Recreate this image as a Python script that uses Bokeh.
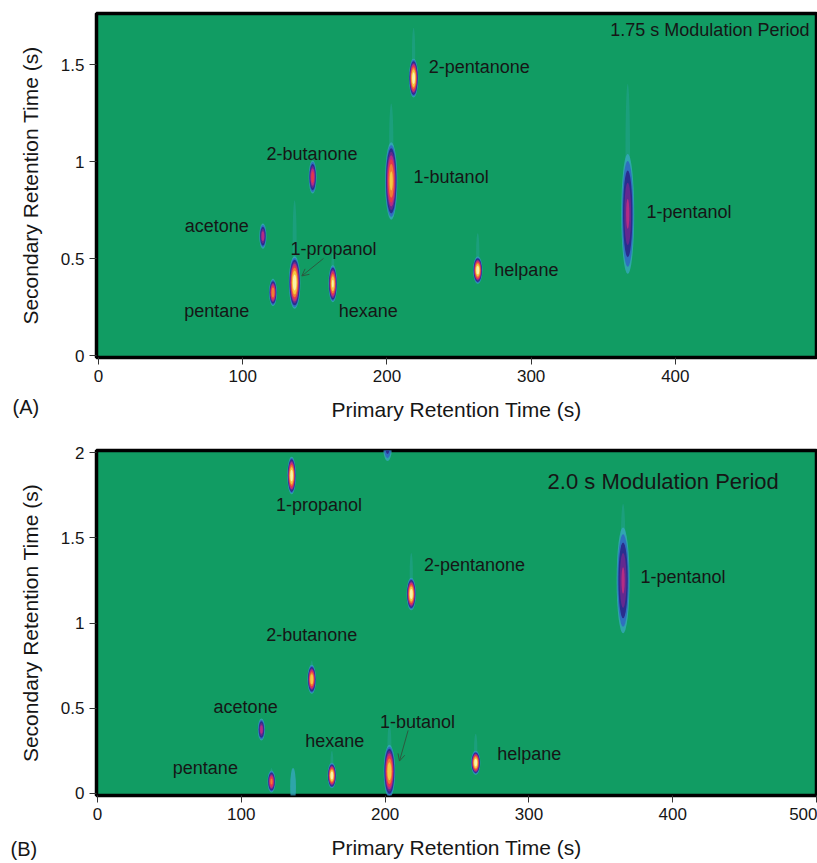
import math
from bokeh.plotting import figure
from bokeh.models import Range1d, FixedTicker, Title, Arrow, OpenHead, CustomJSTickFormatter
from bokeh.layouts import column
from bokeh.embed import file_html
from bokeh.resources import INLINE
from bokeh.core.properties import value

FONT = "Liberation Sans"
BG = "#119c63"
TXT = "#161616"

# ---------------- Panel A (1.75 s modulation) ----------------
a_x = [114, 121, 136, 148.5, 162.5, 203, 218.5, 263, 367]
a_y = [0.615, 0.325, 0.376, 0.92, 0.37, 0.90, 1.43, 0.44, 0.73]
a_w = [5.0, 5.5, 8.0, 5.5, 6.0, 8.5, 6.5, 6.5, 9.0]
a_h = [0.13, 0.14, 0.27, 0.17, 0.19, 0.40, 0.20, 0.14, 0.62]
a_i = [0.58, 0.80, 1.00, 0.68, 0.95, 0.85, 1.00, 1.00, 0.53]
a_tail = [0.68, 0.40, 0.80, 1.00, 0.53, 1.30, 1.69, 0.63, 1.40]

a_lab = ["acetone", "pentane", "1-propanol", "2-butanone", "hexane",
         "1-butanol", "2-pentanone", "helpane", "1-pentanol"]
a_lx = [82, 82, 163, 148, 187, 218.5, 229, 274.5, 380]
a_ly = [0.67, 0.23, 0.55, 1.04, 0.23, 0.92, 1.485, 0.44, 0.74]
a_la = ["center", "center", "center", "center", "center", "left", "left", "left", "left"]

# ---------------- Panel B (2.0 s modulation) ----------------
b_x = [135, 201.7, 218.2, 149, 114, 121, 163, 203, 136, 263, 365.5]
b_y = [1.865, 2.03, 1.17, 0.67, 0.375, 0.07, 0.105, 0.13, 0.04, 0.18, 1.25]
b_w = [6.0, 6.0, 6.5, 6.0, 5.0, 5.5, 6.0, 8.0, 4.0, 6.5, 9.0]
b_h = [0.22, 0.16, 0.19, 0.17, 0.13, 0.13, 0.15, 0.31, 0.22, 0.14, 0.62]
b_i = [1.00, 0.35, 1.00, 0.90, 0.58, 0.75, 1.00, 0.90, 0.14, 1.00, 0.53]
b_tail = [1.95, 2.1, 1.41, 0.78, 0.42, 0.15, 0.25, 0.41, 0.0, 0.35, 1.70]

b_lab = ["1-propanol", "2-pentanone", "1-pentanol", "2-butanone", "acetone",
         "1-butanol", "hexane", "helpane", "pentane"]
b_lx = [154, 227, 377.6, 149, 103, 222.5, 165, 278, 75]
b_ly = [1.695, 1.34, 1.27, 0.93, 0.51, 0.42, 0.305, 0.23, 0.147]
b_la = ["center", "left", "left", "center", "center", "center", "center", "left", "center"]

LEVELS = [0.05, 0.16, 0.28, 0.40, 0.50, 0.60, 0.70, 0.80, 0.91]
COLORS = ["#3aa9c9", "#2f6cc0", "#2a2d8e", "#64298f", "#b42d84", "#e2384a",
          "#f07d35", "#f6c842", "#fbf2a8"]
ALPHAS = [0.7, 0.95, 1, 1, 1, 1, 1, 1, 1]


def draw_peaks(p, xs, ys, ws, hs, ints, tails):
    tx, ty, tw, th = [], [], [], []
    for x, y, w, h, t in zip(xs, ys, ws, hs, tails):
        if t > y + h / 2:
            tx.append(x)
            ty.append((y + t) / 2)
            tw.append(w * 0.35)
            th.append(t - y)
    if tx:
        p.ellipse(x=tx, y=ty, width=tw, height=th, fill_color=COLORS[0],
                  fill_alpha=0.25, line_color=None)
    for L, c, a in zip(LEVELS, COLORS, ALPHAS):
        lx, ly, lw, lh = [], [], [], []
        for x, y, w, h, I in zip(xs, ys, ws, hs, ints):
            if I > L:
                s = math.sqrt((1 - L / I) / (1 - LEVELS[0] / I))
                lx.append(x)
                ly.append(y)
                lw.append(w * s)
                lh.append(h * s)
        if lx:
            p.ellipse(x=lx, y=ly, width=lw, height=lh, fill_color=c,
                      fill_alpha=a, line_color=None)


def draw_labels(p, xs, ys, texts, aligns, size="18px"):
    for al in ("left", "center", "right"):
        sel = [i for i, a in enumerate(aligns) if a == al]
        if not sel:
            continue
        p.text(x=[xs[i] for i in sel], y=[ys[i] for i in sel],
               text=[texts[i] for i in sel], text_align=al,
               text_baseline="middle", text_font=value(FONT),
               text_font_size=size, text_color=TXT)


def style(p, xticks, yticks):
    p.background_fill_color = BG
    p.border_fill_color = "white"
    p.grid.visible = False
    p.outline_line_color = "black"
    p.outline_line_width = 3.5
    fmt = "return String(tick);"
    p.xaxis.ticker = FixedTicker(ticks=xticks)
    p.yaxis.ticker = FixedTicker(ticks=yticks)
    for ax in (p.xaxis[0], p.yaxis[0]):
        ax.formatter = CustomJSTickFormatter(code=fmt)
        ax.axis_line_color = None
        ax.major_tick_line_color = "#333333"
        ax.major_tick_in = 0
        ax.major_tick_out = 7
        ax.minor_tick_line_color = None
        ax.major_label_text_font = FONT
        ax.major_label_text_font_size = "17px"
        ax.major_label_text_color = TXT
        ax.axis_label_text_font = FONT
        ax.axis_label_text_font_size = "21px"
        ax.axis_label_text_font_style = "normal"
        ax.axis_label_text_color = TXT
        ax.major_label_standoff = 5
    p.xaxis.axis_label_standoff = 13
    p.yaxis.axis_label_standoff = 16
    p.xaxis.axis_label = "Primary Retention Time (s)"
    p.yaxis.axis_label = "Secondary Retention Time (s)"


def panel_tag(p, text, offset, standoff):
    p.add_layout(Title(text=text, align="left", vertical_align="top",
                       offset=offset, standoff=standoff,
                       text_font=FONT, text_font_size="20px",
                       text_font_style="normal", text_color=TXT), "below")


# Panel A figure
pa = figure(width=817, height=426, x_range=Range1d(-1.38, 497.9),
            y_range=Range1d(-0.0103, 1.763), output_backend="svg",
            toolbar_location=None, min_border_left=94, min_border_right=1,
            min_border_top=13, min_border_bottom=69)
style(pa, [0, 100, 200, 300, 400], [0, 0.5, 1, 1.5])
draw_peaks(pa, a_x, a_y, a_w, a_h, a_i, a_tail)
draw_labels(pa, a_lx, a_ly, a_lab, a_la)
pa.text(x=[493], y=[1.68], text=["1.75 s Modulation Period"], text_align="right",
        text_baseline="middle", text_font=value(FONT), text_font_size="18px",
        text_color=TXT)
pa.add_layout(Arrow(end=OpenHead(size=7, line_color="#2d5a40", line_width=1),
                    x_start=156, y_start=0.50, x_end=141, y_end=0.41,
                    line_color="#2d5a40", line_width=1))
panel_tag(pa, "(A)", -84, -56)

# Panel B figure
pb = figure(width=817, height=437, x_range=Range1d(-0.7, 500),
            y_range=Range1d(-0.012, 2.012), output_backend="svg",
            toolbar_location=None, min_border_left=96, min_border_right=1,
            min_border_top=24, min_border_bottom=68)
style(pb, [0, 100, 200, 300, 400, 500], [0, 0.5, 1, 1.5, 2])
draw_peaks(pb, b_x, b_y, b_w, b_h, b_i, b_tail)
draw_labels(pb, b_lx, b_ly, b_lab, b_la)
pb.text(x=[313], y=[1.83], text=["2.0  s Modulation Period"], text_align="left",
        text_baseline="middle", text_font=value(FONT), text_font_size="22px",
        text_color=TXT)
pb.add_layout(Arrow(end=OpenHead(size=7, line_color="#2d5a40", line_width=1),
                    x_start=216, y_start=0.37, x_end=210, y_end=0.19,
                    line_color="#2d5a40", line_width=1))
panel_tag(pb, "(B)", -86, -48)

layout = column(pa, pb, spacing=0)
open("out.html", "w").write(file_html(layout, INLINE))
